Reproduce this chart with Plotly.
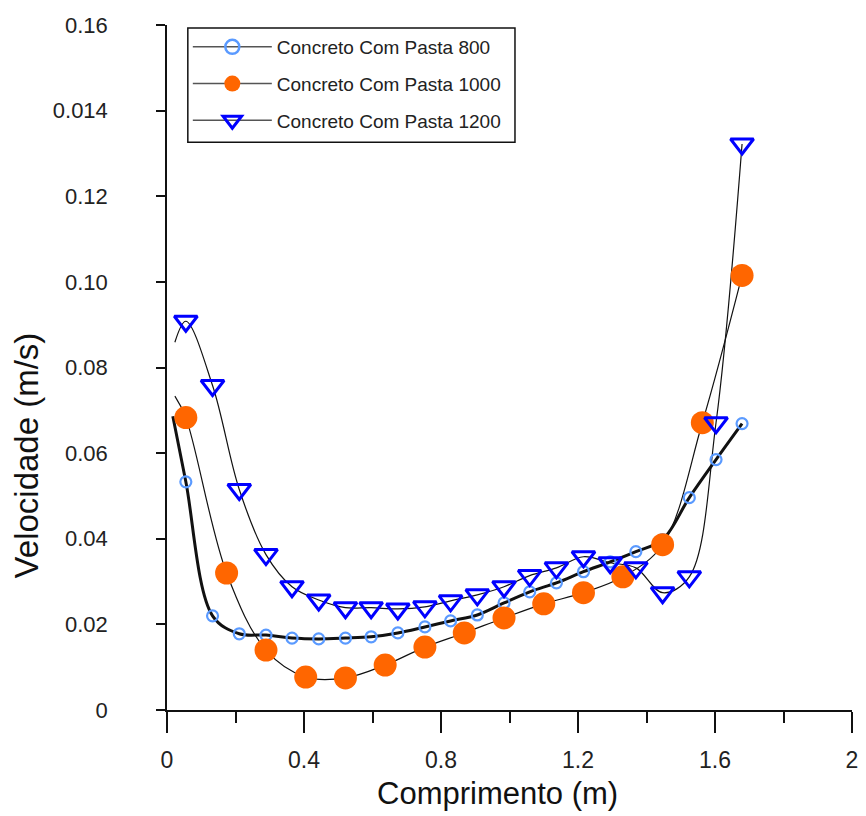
import plotly.graph_objects as go

# ---------------- data ----------------
x_800 = [0.055, 0.133, 0.211, 0.289, 0.365, 0.443, 0.521, 0.596, 0.674, 0.753, 0.828,
         0.906, 0.984, 1.059, 1.137, 1.216, 1.294, 1.369, 1.447, 1.525, 1.603, 1.679]
y_800 = [0.0533, 0.0220, 0.0178, 0.0175, 0.0168, 0.0166, 0.0168, 0.0171, 0.0180, 0.0194, 0.0208,
         0.0222, 0.0250, 0.0276, 0.0297, 0.0323, 0.0346, 0.0370, 0.0398, 0.0496, 0.0585, 0.0669]

x_1000 = [0.055, 0.174, 0.289, 0.405, 0.521, 0.637, 0.753, 0.868, 0.984, 1.100, 1.216,
          1.331, 1.447, 1.563, 1.679]
y_1000 = [0.0683, 0.0320, 0.0140, 0.0077, 0.0075, 0.0105, 0.0147, 0.0180, 0.0215, 0.0248, 0.0274,
          0.0311, 0.0386, 0.0671, 0.1015]

x_1200 = [0.055, 0.133, 0.211, 0.289, 0.365, 0.443, 0.521, 0.596, 0.674, 0.753, 0.828,
          0.906, 0.984, 1.059, 1.137, 1.216, 1.294, 1.369, 1.447, 1.525, 1.603, 1.679]
y_1200 = [0.0908, 0.0758, 0.0515, 0.0363, 0.0288, 0.0257, 0.0239, 0.0239, 0.0236, 0.0241, 0.0255,
          0.0269, 0.0288, 0.0314, 0.0332, 0.0358, 0.0344, 0.0332, 0.0274, 0.0311, 0.0671, 0.1322]

# start points of the smoothed curves (no symbol drawn there)
curve_start_800 = (0.017, 0.0686)
curve_start_1000 = (0.023, 0.0733)
curve_start_1200 = (0.023, 0.0859)

series_names = ["Concreto Com Pasta 800", "Concreto Com Pasta 1000", "Concreto Com Pasta 1200"]

x_tick_major = [0, 0.4, 0.8, 1.2, 1.6, 2]
x_tick_major_text = ["0", "0.4", "0.8", "1.2", "1.6", "2"]
x_tick_minor = [0.2, 0.6, 1.0, 1.4, 1.8]
y_tick_vals = [0, 0.02, 0.04, 0.06, 0.08, 0.10, 0.12, 0.14, 0.16]
y_tick_text = ["0", "0.02", "0.04", "0.06", "0.08", "0.10", "0.12", "0.014", "0.16"]
y_tick_long = [0, 0.04, 0.08, 0.12, 0.16]

x_title = "Comprimento (m)"
y_title = "Velocidade (m/s)"

FONT = "Arial, Liberation Sans, sans-serif"
C_800 = "#5a9aff"
C_1000 = "#ff6600"
C_1200 = "#0000ff"

fig = go.Figure()

# smoothed curves
for (sx, sy), xs, ys, w in [(curve_start_1200, x_1200, y_1200, 1.2),
                            (curve_start_1000, x_1000, y_1000, 1.2),
                            (curve_start_800, x_800, y_800, 3.0)]:
    fig.add_trace(go.Scatter(x=[sx] + xs, y=[sy] + ys, mode="lines",
                             line=dict(color="#111111", width=w, shape="spline", smoothing=1.0),
                             showlegend=False, hoverinfo="skip"))

# symbols
fig.add_trace(go.Scatter(x=x_800, y=y_800, mode="markers", showlegend=False,
                         marker=dict(symbol="circle-open", size=11, color=C_800, line=dict(width=2.2, color=C_800))))
fig.add_trace(go.Scatter(x=x_1000, y=y_1000, mode="markers", showlegend=False,
                         marker=dict(symbol="circle", size=23, color=C_1000)))
fig.add_trace(go.Scatter(x=x_1200, y=y_1200, mode="markers", showlegend=False,
                         marker=dict(symbol="triangle-down-open", size=20, color=C_1200, line=dict(width=3, color=C_1200))))

# legend entries
legend_specs = [
    (series_names[0], dict(symbol="circle-open", size=14, color=C_800, line=dict(width=2.5, color=C_800))),
    (series_names[1], dict(symbol="circle", size=16, color=C_1000)),
    (series_names[2], dict(symbol="triangle-down-open", size=16, color=C_1200, line=dict(width=3, color=C_1200))),
]
for i, (name, mk) in enumerate(legend_specs):
    fig.add_trace(go.Scatter(x=[None], y=[None], mode="lines+markers", name=name,
                             legendgroup=f"g{i}", line=dict(color="#555555", width=1.5), marker=mk))

# legend frame
fig.add_shape(type="rect", xref="paper", yref="paper",
              x0=0.0304, x1=0.508, y0=0.829, y1=0.9956,
              line=dict(color="#111111", width=1.5), fillcolor="white", layer="below")

# axis titles
fig.add_annotation(text=x_title, xref="paper", yref="paper", x=0.483, y=-0.1226,
                   xanchor="center", yanchor="middle", showarrow=False, borderpad=0,
                   font=dict(family=FONT, size=31, color="#111111"))
fig.add_annotation(text=y_title, xref="paper", yref="paper", x=-0.2055, y=0.372,
                   xanchor="center", yanchor="middle", showarrow=False, textangle=-90,
                   font=dict(family=FONT, size=33, color="#111111"))

fig.update_layout(
    width=866, height=816,
    margin=dict(l=167, r=8, t=25, b=106),
    paper_bgcolor="white", plot_bgcolor="white",
    font=dict(family=FONT, color="#111111"),
    showlegend=True,
    legend=dict(x=0.0304, y=0.9956, xanchor="left", yanchor="top",
                bgcolor="rgba(0,0,0,0)", borderwidth=0,
                font=dict(family=FONT, size=19, color="#222222"),
                itemwidth=79, tracegroupgap=9, traceorder="grouped"),
    xaxis=dict(range=[0, 2], showgrid=False, zeroline=False, showline=True,
               linecolor="#111111", linewidth=1.5,
               tickmode="array", tickvals=x_tick_major, ticktext=x_tick_major_text,
               ticks="outside", ticklen=21, tickwidth=1.5, tickcolor="#111111",
               tickfont=dict(family=FONT, size=23, color="#222222"), ticklabelstandoff=8,
               minor=dict(tickmode="array", tickvals=x_tick_minor, ticks="outside",
                          ticklen=11, tickwidth=1.5, tickcolor="#111111")),
    yaxis=dict(range=[0, 0.16], showgrid=False, zeroline=False, showline=True,
               linecolor="#111111", linewidth=1.5,
               tickmode="array", tickvals=y_tick_vals, ticktext=y_tick_text,
               ticks="outside", ticklen=9, tickwidth=1.5, tickcolor="#111111",
               tickfont=dict(family=FONT, size=22, color="#222222"), ticklabelstandoff=44),
    yaxis2=dict(range=[0, 0.16], overlaying="y", side="left", anchor="x", showgrid=False,
                zeroline=False, showline=False, tickmode="array", tickvals=y_tick_long,
                ticks="outside", ticklen=33, tickwidth=1.5, tickcolor="#111111",
                showticklabels=False),
)

fig.write_html("out.html")
